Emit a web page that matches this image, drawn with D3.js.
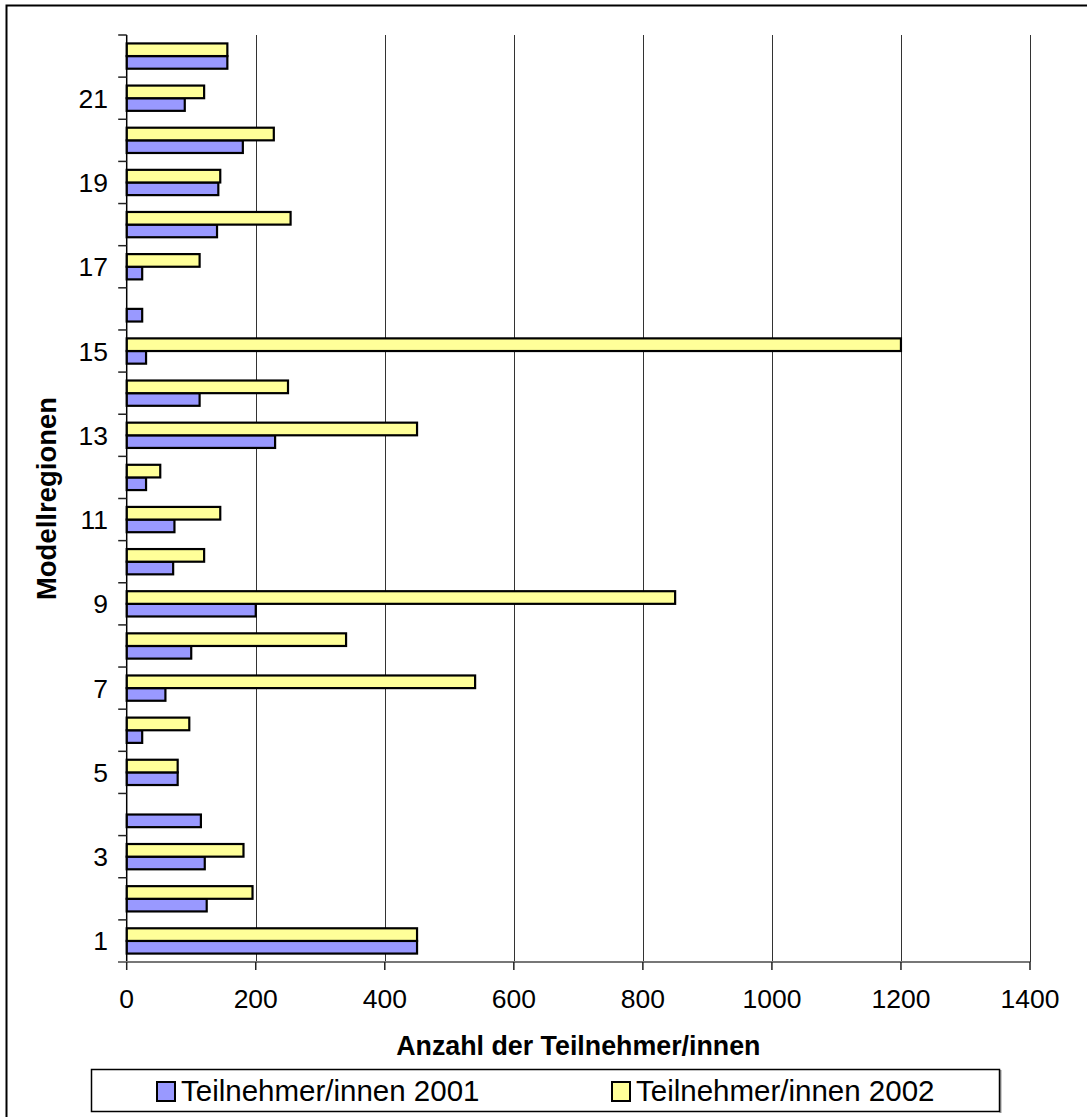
<!DOCTYPE html>
<html>
<head>
<meta charset="utf-8">
<script src="https://cdn.jsdelivr.net/npm/d3@7"></script>
<style>
  html, body { margin: 0; padding: 0; background: #fff; }
  svg { display: block; }
  text { font-family: "Liberation Sans", Arial, sans-serif; fill: #000; }
</style>
</head>
<body>
<svg id="chart" width="1087" height="1117"></svg>
<script>
// Participants per model region, 2001 and 2002
const regions = [1, 2, 3, 4, 5, 6, 7, 8, 9, 10, 11, 12, 13, 14, 15, 16, 17, 18, 19, 20, 21, 22];
const participants2001 = [450, 124, 121, 115, 79, 24, 60, 100, 200, 72, 74, 30, 230, 113, 30, 24, 24, 140, 142, 180, 90, 156];
const participants2002 = [450, 195, 181, null, 79, 97, 540, 340, 850, 120, 145, 52, 450, 250, 1200, null, 113, 254, 145, 228, 120, 156];
const xTicks = [0, 200, 400, 600, 800, 1000, 1200, 1400];
const seriesNames = ["Teilnehmer/innen 2001", "Teilnehmer/innen 2002"];
const seriesColors = ["#9999FF", "#FFFF99"];

const svg = d3.select("#chart");

// outer chart frame
svg.append("rect")
  .attr("x", 6.5).attr("y", 5.5)
  .attr("width", 1200).attr("height", 1200)
  .attr("fill", "none").attr("stroke", "#000").attr("stroke-width", 2);

const plot = { left: 126.7, right: 1030, top: 35, bottom: 962 };

const x = d3.scaleLinear().domain([0, 1400]).range([plot.left, plot.right]);
const y = d3.scaleBand()
  .domain(regions.slice().reverse())
  .range([plot.top, plot.bottom])
  .paddingInner(0).paddingOuter(0);
// 2002 drawn above 2001 inside each region's band
const sub = d3.scaleBand()
  .domain([1, 0])
  .range([0, y.bandwidth()])
  .paddingInner(0).paddingOuter(0.667);

// vertical gridlines
svg.append("g")
  .selectAll("line")
  .data(xTicks.filter(d => d > 0))
  .join("line")
  .attr("x1", d => Math.round(x(d)) + 0.5).attr("x2", d => Math.round(x(d)) + 0.5)
  .attr("y1", plot.top).attr("y2", plot.bottom)
  .attr("stroke", "#333").attr("stroke-width", 1);

// bars
const rows = regions.map((r, i) => [
  { region: r, s: 0, v: participants2001[i] },
  { region: r, s: 1, v: participants2002[i] }
]).flat().filter(d => d.v != null);

svg.append("g")
  .selectAll("rect")
  .data(rows)
  .join("rect")
  .attr("x", x(0))
  .attr("y", d => y(d.region) + sub(d.s))
  .attr("width", d => x(d.v) - x(0))
  .attr("height", sub.bandwidth())
  .attr("fill", d => seriesColors[d.s])
  .attr("stroke", "#000").attr("stroke-width", 2.2);

// y axis: ticks between regions, labels on odd regions
const yAxis = svg.append("g");
yAxis.append("line")
  .attr("x1", plot.left).attr("x2", plot.left)
  .attr("y1", plot.top).attr("y2", plot.bottom)
  .attr("stroke", "#000").attr("stroke-width", 1.5);
const boundaries = regions.map(r => y(r)).concat([plot.bottom]);
yAxis.selectAll("line.tick")
  .data(boundaries)
  .join("line").attr("class", "tick")
  .attr("x1", plot.left - 8.5).attr("x2", plot.left)
  .attr("y1", d => d).attr("y2", d => d)
  .attr("stroke", "#222").attr("stroke-width", 1.5);
yAxis.selectAll("text")
  .data(regions.filter(r => r % 2 === 1))
  .join("text")
  .attr("x", 108)
  .attr("y", d => y(d) + y.bandwidth() / 2)
  .attr("dy", "0.36em")
  .attr("text-anchor", "end")
  .style("font-size", "26.5px")
  .text(d => d);

// x axis
const xAxis = svg.append("g");
xAxis.append("line")
  .attr("x1", plot.left - 8.5).attr("x2", plot.right)
  .attr("y1", plot.bottom).attr("y2", plot.bottom)
  .attr("stroke", "#777").attr("stroke-width", 2);
xAxis.selectAll("line.tick")
  .data(xTicks)
  .join("line").attr("class", "tick")
  .attr("x1", d => x(d)).attr("x2", d => x(d))
  .attr("y1", plot.bottom).attr("y2", plot.bottom + 8)
  .attr("stroke", "#222").attr("stroke-width", 1.5);
xAxis.selectAll("text")
  .data(xTicks)
  .join("text")
  .attr("x", d => x(d))
  .attr("y", 1008)
  .attr("text-anchor", "middle")
  .style("font-size", "26.5px")
  .text(d => d);

// axis titles
svg.append("text")
  .attr("x", (plot.left + plot.right) / 2)
  .attr("y", 1055)
  .attr("text-anchor", "middle")
  .style("font-size", "26.8px").style("font-weight", "bold")
  .text("Anzahl der Teilnehmer/innen");
svg.append("text")
  .attr("transform", `translate(56,${(plot.top + plot.bottom) / 2}) rotate(-90)`)
  .attr("text-anchor", "middle")
  .style("font-size", "27.5px").style("font-weight", "bold")
  .text("Modellregionen");

// legend
const legend = svg.append("g");
legend.append("line")
  .attr("x1", 1000.5).attr("x2", 1000.5)
  .attr("y1", 1070).attr("y2", 1113)
  .attr("stroke", "#999").attr("stroke-width", 2);
legend.append("rect")
  .attr("x", 91.5).attr("y", 1069.5)
  .attr("width", 908).attr("height", 42)
  .attr("fill", "#fff").attr("stroke", "#000").attr("stroke-width", 1.5);
const legendX = [157, 612];
legend.selectAll("rect.key")
  .data(seriesNames)
  .join("rect").attr("class", "key")
  .attr("x", (d, i) => legendX[i]).attr("y", 1082)
  .attr("width", 18).attr("height", 19)
  .attr("fill", (d, i) => seriesColors[i])
  .attr("stroke", "#000").attr("stroke-width", 2);
legend.selectAll("text")
  .data(seriesNames)
  .join("text")
  .attr("x", (d, i) => legendX[i] + 24)
  .attr("y", 1101)
  .style("font-size", "29.5px")
  .text(d => d);
</script>
</body>
</html>
